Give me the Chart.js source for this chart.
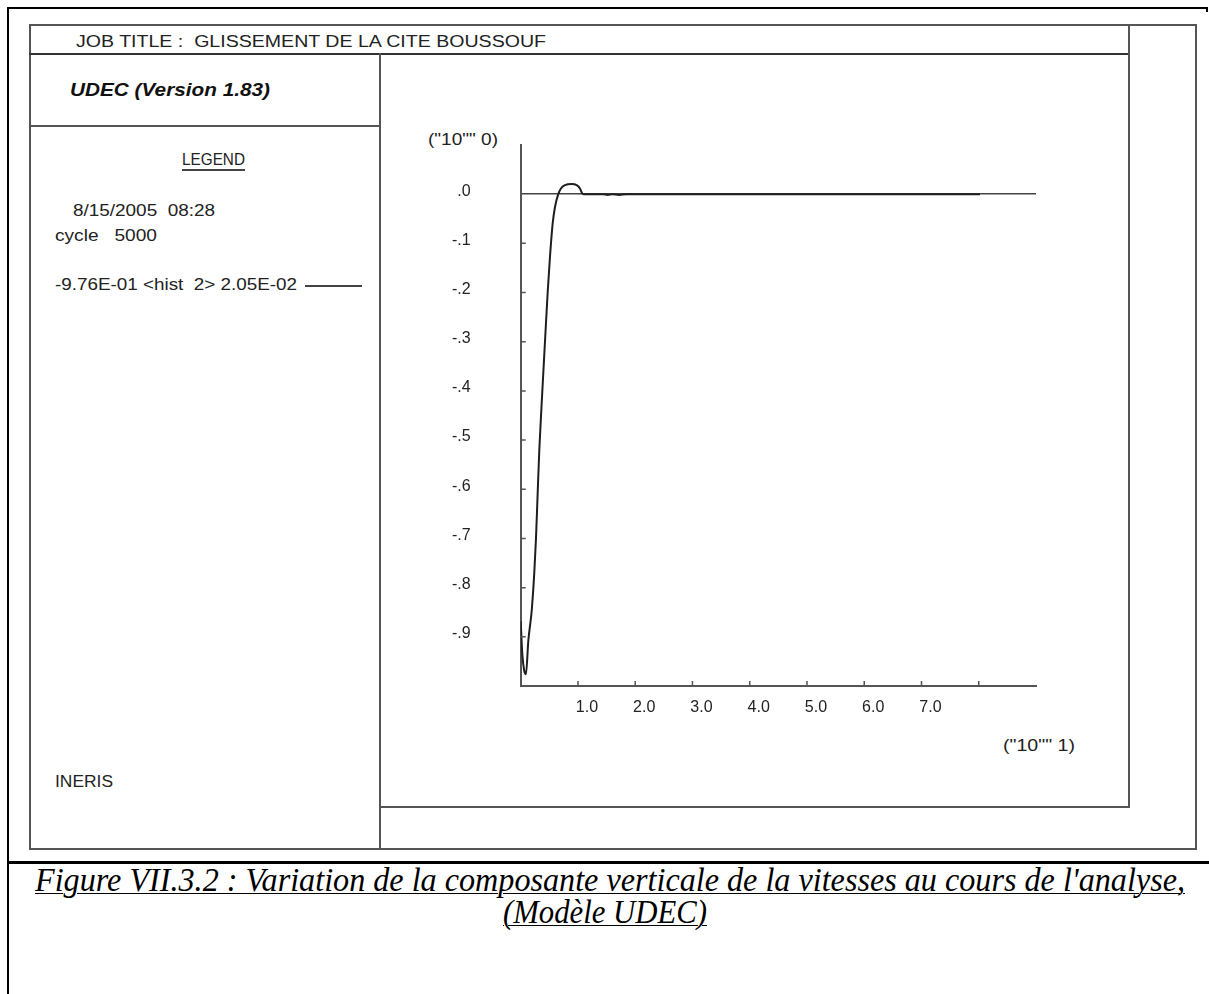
<!DOCTYPE html>
<html>
<head>
<meta charset="utf-8">
<script src="https://cdn.jsdelivr.net/npm/chart.js@4.4.0/dist/chart.umd.min.js"></script>
<style>
  body { margin: 0; background: #fff; }
  #page { position: relative; width: 1209px; height: 994px; overflow: hidden; background: #fff; }
  .ln { position: absolute; background: #555; }
  .t { position: absolute; white-space: pre; font-family: "Liberation Sans", Arial, sans-serif; color: #222; transform-origin: 0 50%; }
  .cap { font-family: "Liberation Serif", "Times New Roman", serif; font-style: italic; color: #000; text-decoration: underline; text-decoration-thickness: 1px; text-underline-offset: 2px; }
  #box { position: absolute; left: 381px; top: 55px; width: 747px; height: 751px; }
</style>
</head>
<body>
<div id="page">
  <!-- outer frame -->
  <div class="ln" style="left:7px;top:7px;width:1201px;height:2px;background:#000"></div>
  <div class="ln" style="left:7px;top:7px;width:2px;height:987px;background:#000"></div>
  <div class="ln" style="left:1206px;top:7px;width:2px;height:5px;background:#000"></div>
  <!-- inner frame -->
  <div class="ln" style="left:29px;top:24px;width:1168px;height:2px"></div>
  <div class="ln" style="left:29px;top:24px;width:2px;height:826px"></div>
  <div class="ln" style="left:29px;top:848px;width:1168px;height:2px"></div>
  <div class="ln" style="left:1195px;top:24px;width:2px;height:826px"></div>
  <div class="ln" style="left:29px;top:53px;width:1101px;height:2px;background:#333"></div>
  <div class="ln" style="left:1128px;top:24px;width:2px;height:784px"></div>
  <div class="ln" style="left:379px;top:53px;width:1.5px;height:796px"></div>
  <div class="ln" style="left:29px;top:125px;width:351px;height:1.5px"></div>
  <div class="ln" style="left:380px;top:806px;width:750px;height:1.5px"></div>
  <div class="ln" style="left:7px;top:861px;width:1202px;height:3px;background:#000"></div>

  <div class="t" data-w="470" style="left:76px;top:33px;font-size:16px;line-height:18px">JOB TITLE :  GLISSEMENT DE LA CITE BOUSSOUF</div>
  <div class="t" data-w="200" style="left:70px;top:80px;font-size:19px;line-height:20px;font-weight:bold;font-style:italic;color:#111">UDEC (Version 1.83)</div>
  <div class="t" data-w="63" style="left:182px;top:151px;font-size:16px;line-height:18px">LEGEND</div>
  <div class="ln" style="left:182px;top:169px;width:63px;height:2px;background:#444"></div>
  <div class="t" data-w="142" style="left:73px;top:202px;font-size:16px;line-height:18px">8/15/2005  08:28</div>
  <div class="t" data-w="102" style="left:55px;top:227px;font-size:16px;line-height:18px">cycle   5000</div>
  <div class="t" data-w="242" style="left:55px;top:276px;font-size:16px;line-height:18px">-9.76E-01 &lt;hist  2&gt; 2.05E-02</div>
  <div class="ln" style="left:305px;top:285px;width:57px;height:1.5px;background:#444"></div>
  <div class="t" data-w="58" style="left:55px;top:773px;font-size:16px;line-height:18px">INERIS</div>
  <div class="t" data-w="70" style="left:428px;top:131px;font-size:16px;line-height:18px">("10"" 0)</div>
  <div class="t" data-w="72" style="left:1003px;top:737px;font-size:16px;line-height:18px">("10"" 1)</div>

  <div class="t cap" data-w="1150" style="left:35px;top:863px;font-size:34px;line-height:34px">Figure VII.3.2 : Variation de la composante verticale de la vitesses au cours de l'analyse,</div>
  <div class="t cap" data-w="204" style="left:503px;top:895px;font-size:34px;line-height:34px">(Modèle UDEC)</div>

  <div id="box"><canvas id="myChart"></canvas></div>
</div>
<script>
// history 2 : vertical velocity vs time (10^1)
const timeX = [0.00, 0.028, 0.06, 0.092, 0.133, 0.192, 0.237, 0.267, 0.297, 0.325, 0.366, 0.424, 0.471, 0.511, 0.558, 0.599, 0.656, 0.703, 0.773, 0.89, 0.977, 1.035, 1.075, 1.10, 1.44, 1.52, 1.60, 1.72, 1.85, 1.96, 8.02];
const velocityY = [-0.868, -0.935, -0.968, -0.976, -0.908, -0.847, -0.77, -0.70, -0.606, -0.52, -0.426, -0.30, -0.20, -0.128, -0.06, -0.026, 0.0, 0.0116, 0.0183, 0.0205, 0.0183, 0.0116, 0.0014, 0.0, 0.0, -0.0015, 0.0, -0.0015, 0.0, 0.0, 0.0];
const xTickLabels = ['1.0', '2.0', '3.0', '4.0', '5.0', '6.0', '7.0'];
const yTickLabels = ['.0', '-.1', '-.2', '-.3', '-.4', '-.5', '-.6', '-.7', '-.8', '-.9'];

// squeeze texts to the widths seen in the picture
document.querySelectorAll('.t[data-w]').forEach(el => {
    const w = el.getBoundingClientRect().width;
    el.style.transform = 'scaleX(' + (el.dataset.w / w) + ')';
});

const points = [];
for (let n = 0; n < timeX.length; n++) {
    points.push({x: timeX[n], y: velocityY[n]});
}

// small inward tick marks like the UDEC plot
const tickMarks = {
    id: 'tickMarks',
    afterDraw(chart) {
        const ctx = chart.ctx;
        const xs = chart.scales.x, ys = chart.scales.y;
        const a = chart.chartArea;
        ctx.save();
        ctx.strokeStyle = '#555';
        ctx.lineWidth = 1.5;
        ctx.beginPath();
        for (let v = 1; v <= 8; v++) {
            const px = xs.getPixelForValue(v);
            ctx.moveTo(px, a.bottom);
            ctx.lineTo(px, a.bottom - 5);
        }
        for (let k = 1; k <= 9; k++) {
            const py = ys.getPixelForValue(-k / 10);
            ctx.moveTo(a.left, py);
            ctx.lineTo(a.left + 5, py);
        }
        ctx.stroke();
        ctx.restore();
    }
};

const chart = document.querySelector('#myChart').getContext('2d');
const myChart = new Chart(chart, {
    type: 'line',
    data: {
        datasets: [{
            label: 'hist 2',
            data: points,
            borderColor: '#1e1e1e',
            borderWidth: 2,
            pointRadius: 0,
            cubicInterpolationMode: 'monotone',
            fill: false
        }]
    },
    options: {
        responsive: true,
        maintainAspectRatio: false,
        animation: false,
        layout: { padding: { top: 90, right: 92, left: 0, bottom: 0 } },
        plugins: { legend: { display: false }, tooltip: { enabled: false } },
        scales: {
            x: {
                type: 'linear',
                min: 0,
                max: 9,
                afterFit: (s) => { s.height = 120; },
                border: { display: true, color: '#555', width: 2 },
                grid: { display: false, drawTicks: false },
                ticks: {
                    stepSize: 1,
                    padding: 12,
                    labelOffset: 9,
                    maxRotation: 0,
                    autoSkip: false,
                    color: '#222',
                    font: { family: '"Liberation Sans", Arial, sans-serif', size: 16 },
                    callback: (v) => (v >= 1 && v <= 7) ? xTickLabels[Math.round(v) - 1] : ''
                }
            },
            y: {
                min: -1.0,
                max: 0.1,
                afterFit: (s) => { s.width = 139.7; },
                border: { display: true, color: '#555', width: 2 },
                grid: {
                    drawTicks: false,
                    lineWidth: 1.5,
                    color: (c) => (c.tick && Math.abs(c.tick.value) < 1e-6) ? '#444' : 'rgba(0,0,0,0)'
                },
                ticks: {
                    stepSize: 0.1,
                    padding: 50,
                    labelOffset: -3,
                    autoSkip: false,
                    color: '#222',
                    font: { family: '"Liberation Sans", Arial, sans-serif', size: 16 },
                    callback: (v) => {
                        const k = Math.round(-v * 10);
                        return (k >= 0 && k <= 9) ? yTickLabels[k] : '';
                    }
                }
            }
        }
    },
    plugins: [tickMarks]
});
</script>
</body>
</html>
